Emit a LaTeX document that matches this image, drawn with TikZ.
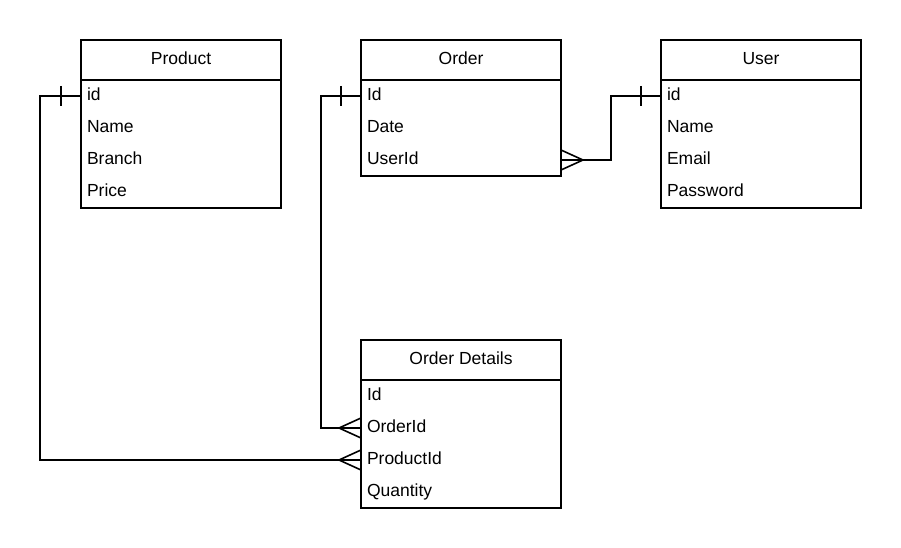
\documentclass[tikz,border=0pt]{standalone}
\usepackage{fontspec}
\setmainfont{Liberation Sans}
\begin{document}
\begin{tikzpicture}[x=1pt,y=-1pt,line width=1.6pt,
  entity/.style={draw,anchor=north west,minimum width=200pt,minimum height=40pt,
    inner sep=0pt,outer sep=0pt,text height=12.5pt,text depth=4pt,
    font=\fontsize{17.5}{20}\selectfont},
  field/.style={anchor=west,text width=188pt,align=left,inner xsep=6pt,inner ysep=0pt,
    minimum height=32pt,outer sep=0pt,text height=12.5pt,text depth=3.5pt,
    font=\fontsize{17.5}{20}\selectfont}]
\useasboundingbox (0,0) rectangle (901,548);

% --- the Product table
\node[entity] (product) at (81,40) {Product};
\draw (product.south west) rectangle ++(200,128);
\node[field] (productid) at (81,96) {id};
\node[field] (productname) at (81,128) {Name};
\node[field] (productbranch) at (81,160) {Branch};
\node[field] (productprice) at (81,192) {Price};

% --- the Order table
\node[entity] (order) at (361,40) {Order};
\draw (order.south west) rectangle ++(200,96);
\node[field] (orderid) at (361,96) {Id};
\node[field] (orderdate) at (361,128) {Date};
\node[field] (orderuserid) at (361,160) {UserId};

% --- the User table
\node[entity] (user) at (661,40) {User};
\draw (user.south west) rectangle ++(200,128);
\node[field] (userid) at (661,96) {id};
\node[field] (username) at (661,128) {Name};
\node[field] (useremail) at (661,160) {Email};
\node[field] (userpassword) at (661,192) {Password};

% --- the Order Details table
\node[entity] (details) at (361,340) {Order Details};
\draw (details.south west) rectangle ++(200,128);
\node[field] (detailsid) at (361,396) {Id};
\node[field] (detailsorder) at (361,428) {OrderId};
\node[field] (detailsproduct) at (361,460) {ProductId};
\node[field] (detailsquantity) at (361,492) {Quantity};

% ---- Product id to ProductId
\draw (productid.west) -- ++(-41,0) |- (detailsproduct.west);
\draw ([xshift=-20pt,yshift=10pt]productid.west) -- ([xshift=-20pt,yshift=-10pt]productid.west);
\draw ([xshift=-22pt]detailsproduct.west) -- ([yshift=10pt]detailsproduct.west);
\draw ([xshift=-22pt]detailsproduct.west) -- ([yshift=-10pt]detailsproduct.west);

% ---- Order Id to OrderId
\draw (orderid.west) -- ++(-40,0) |- (detailsorder.west);
\draw ([xshift=-20pt,yshift=10pt]orderid.west) -- ([xshift=-20pt,yshift=-10pt]orderid.west);
\draw ([xshift=-22pt]detailsorder.west) -- ([yshift=10pt]detailsorder.west);
\draw ([xshift=-22pt]detailsorder.west) -- ([yshift=-10pt]detailsorder.west);

% ---- UserId to User id
\draw (orderuserid.east) -- ++(50,0) |- (userid.west);
\draw ([xshift=-20pt,yshift=10pt]userid.west) -- ([xshift=-20pt,yshift=-10pt]userid.west);
\draw ([xshift=22pt]orderuserid.east) -- ([yshift=10pt]orderuserid.east);
\draw ([xshift=22pt]orderuserid.east) -- ([yshift=-10pt]orderuserid.east);
\end{tikzpicture}
\end{document}
